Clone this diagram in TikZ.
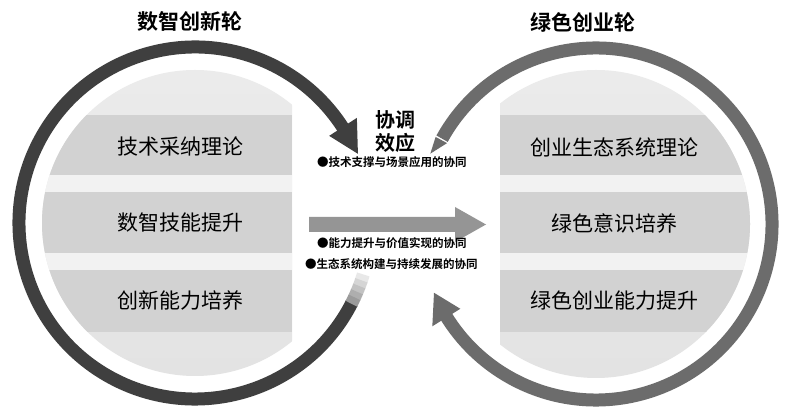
\documentclass[tikz,border=0pt]{standalone}
\usepackage{fontspec}
\newfontfamily\cjk{Noto Sans CJK SC}[BoldFont={Noto Sans CJK SC Bold}]
\usetikzlibrary{calc}
\definecolor{ringdark}{HTML}{3F3F3F}
\definecolor{ringmid}{HTML}{6C6C6C}
\definecolor{disktop}{HTML}{EDEDED}
\definecolor{diskbot}{HTML}{E2E2E2}
\definecolor{bandfill}{HTML}{D2D2D2}
\definecolor{stripefill}{HTML}{F2F2F2}
\definecolor{midarrow}{HTML}{959595}
\begin{document}
\begin{tikzpicture}[x=1pt,y=1pt,
  bandtext/.style={font=\cjk\fontsize{21}{24}\selectfont, inner sep=0pt},
  titletext/.style={font=\cjk\bfseries\fontsize{21}{24}\selectfont, inner sep=0pt},
  effecttext/.style={font=\cjk\bfseries\fontsize{20}{23}\selectfont, inner sep=0pt, align=center},
  bullettext/.style={font=\cjk\bfseries\fontsize{11.5}{13}\selectfont, inner sep=0pt, anchor=west},
  ringleft/.style={draw=ringdark, line width=13pt},
  ringright/.style={draw=ringmid, line width=13pt},
]
\useasboundingbox (0,0) rectangle (786,414);
\fill[white] (0,0) rectangle (786,414);
\coordinate (LC) at (195,191);
\coordinate (RC) at (596,190);

% left disk with bands
\begin{scope}
  \clip (LC) circle (153);
  \clip (0,0) rectangle (292,414);
  \shade[top color=disktop, bottom color=diskbot] (0,0) rectangle (292,414);
  \fill[bandfill] (0,239) rectangle (292,299);
  \fill[stripefill] (0,222) rectangle (292,239);
  \fill[bandfill] (0,161) rectangle (292,222);
  \fill[stripefill] (0,144) rectangle (292,161);
  \fill[bandfill] (0,82) rectangle (292,144);
\end{scope}

% right disk with bands
\begin{scope}
  \clip (RC) circle (154);
  \clip (500,0) rectangle (786,414);
  \shade[top color=disktop, bottom color=diskbot] (500,0) rectangle (786,414);
  \fill[bandfill] (500,239) rectangle (786,299);
  \fill[stripefill] (500,222) rectangle (786,239);
  \fill[bandfill] (500,161) rectangle (786,222);
  \fill[stripefill] (500,144) rectangle (786,161);
  \fill[bandfill] (500,82) rectangle (786,144);
\end{scope}

% left ring (dark), faded start at lower right, arrow head at upper right
\draw[ringleft] ($(LC)+(-27:176)$) arc[start angle=-27, end angle=-327.5, radius=176];
\foreach \i/\c in {0/12,1/22,2/32,3/42,4/52} {
  \draw[draw=ringdark!\c, line width=13pt]
    ($(LC)+({-17-2*\i}:176)$) arc[start angle={-17-2*\i}, end angle={-19.3-2*\i}, radius=176];
}
\fill[ringdark] ($(LC)+(33:160)$) -- ($(LC)+(33:193)$) -- ($(LC)+(23:177)$) -- cycle;

% right ring (mid gray), tapered start at upper left, arrow head at lower left
\draw[ringright] ($(RC)+(151:176)$) arc[start angle=151, end angle=-148.5, radius=176];
\fill[ringmid] ($(RC)+(151.5:169.5)$) -- ($(RC)+(151.5:182.5)$) -- ($(RC)+(157:180)$) -- cycle;
\fill[ringmid] ($(RC)+(-148:160)$) -- ($(RC)+(-148:193)$) -- ($(RC)+(-157:176)$) -- cycle;

% middle arrow
\fill[midarrow] (309,182) -- (455,182) -- (455,172) -- (486,189.5) -- (455,207) -- (455,197) -- (309,197) -- cycle;

% titles
\node[titletext] (t1) at (190,392) {数智创新轮};
\node[titletext] (t2) at (583,392) {绿色创业轮};

% band texts
\node[bandtext] (l1) at (180,267) {技术采纳理论};
\node[bandtext] (l2) at (180,191) {数智技能提升};
\node[bandtext] (l3) at (180,113) {创新能力培养};
\node[bandtext] (r1) at (614,267) {创业生态系统理论};
\node[bandtext] (r2) at (614,191) {绿色意识培养};
\node[bandtext] (r3) at (614,113) {绿色创业能力提升};

% center texts
\node[effecttext] (eff) at (395,283) {协调\\效应};
\node[bullettext] (b1) at (317,252) {●技术支撑与场景应用的协同};
\node[bullettext] (b2) at (317,171) {●能力提升与价值实现的协同};
\node[bullettext] (b3) at (305,150) {●生态系统构建与持续发展的协同};
\end{tikzpicture}
\end{document}
